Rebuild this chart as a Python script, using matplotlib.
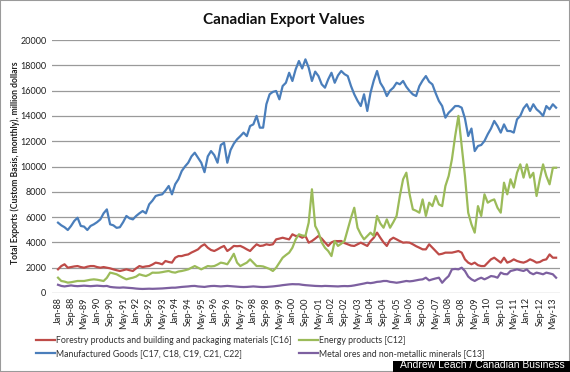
import numpy as np
import matplotlib
matplotlib.use("Agg")
import matplotlib.pyplot as plt
from matplotlib.patches import Rectangle

# ---- data (values every 2 months starting Jan-88, million dollars) ----
forestry = [1870, 2130, 2270, 2000, 2050, 2100, 2130, 2050, 2000, 2080, 2130, 2130, 2050, 2000, 2050, 2000,
            1950, 1870, 1800, 1740, 1800, 1870, 1800, 1740, 1950, 2130, 2050, 2100, 2130, 2250, 2400, 2350,
            2270, 2530, 2450, 2400, 2790, 2920, 2920, 3000, 3050, 3200, 3320, 3450, 3700, 3850, 3580, 3400,
            3320, 3450, 3600, 3720, 3320, 3500, 3720, 3700, 3720, 3600, 3450, 3320, 3600, 3850, 3720, 3750,
            3850, 3800, 3850, 4240, 4300, 4370, 4300, 4240, 4640, 4510, 4510, 4370, 4510, 3980, 4110, 4300,
            4510, 4300, 4000, 3720, 4000, 4110, 4100, 4110, 3950, 3850, 3750, 3720, 3850, 3980, 3850, 3720,
            4100, 4370, 4770, 4370, 4000, 3720, 4200, 4370, 4240, 4100, 3980, 4000, 3980, 3850, 3700, 3580,
            3450, 3450, 3850, 3580, 3300, 3050, 3100, 3190, 3190, 3190, 3250, 3320, 3190, 2660, 2400, 2270,
            2400, 2200, 2130, 2130, 2400, 2660, 2790, 2600, 2400, 2790, 2400, 2500, 2660, 2530, 2450, 2400,
            2500, 2660, 2550, 2400, 2450, 2600, 2660, 3050, 2790, 2790]

energy = [1210, 950, 900, 820, 850, 900, 950, 950, 950, 1000, 1050, 1080, 1050, 1000, 950, 1200,
          1610, 1550, 1480, 1340, 1200, 1080, 1150, 1210, 1300, 1480, 1400, 1340, 1450, 1610, 1600, 1610,
          1650, 1700, 1740, 1650, 1610, 1700, 1740, 1800, 1870, 2000, 2130, 2000, 1870, 2000, 2130, 2100,
          2130, 2250, 2400, 2350, 2270, 2660, 3100, 2400, 2130, 2270, 2400, 2660, 2400, 2130, 2130, 2100,
          2000, 1900, 1740, 2000, 2400, 2790, 3000, 3190, 3580, 4240, 4640, 4550, 4510, 5560, 8200, 5300,
          4800, 4000, 3580, 3320, 2920, 4110, 3720, 3900, 4110, 5030, 5950, 6740, 5160, 4640, 4240, 4500,
          4770, 4510, 6090, 5500, 5160, 5820, 5160, 5600, 6090, 7670, 8990, 9510, 7800, 6610, 6500, 6350,
          7400, 6090, 7140, 6870, 7670, 7010, 6870, 8460, 9250, 10570, 12410, 14000, 11620, 9250, 6350, 5430,
          4770, 6870, 6090, 7800, 7140, 7300, 7400, 6740, 6350, 8720, 7800, 8990, 8330, 9510, 10170, 9120,
          10170, 9120, 9500, 7670, 8990, 10170, 9250, 8590, 9900, 9900]

manufactured = [5560, 5350, 5200, 4980, 5300, 5700, 5950, 5300, 5250, 4980, 5300, 5430, 5600, 5820, 6300, 6610,
                5430, 5350, 5150, 5200, 5600, 6090, 5900, 5820, 6090, 6300, 6480, 6300, 7010, 7300, 7670, 7750,
                7800, 8100, 8460, 7800, 8600, 9000, 9640, 10000, 10300, 10800, 11090, 10700, 10300, 9550, 10800, 11220,
                10900, 10300, 11700, 11880, 10300, 11300, 11800, 12150, 12400, 12680, 12400, 13200, 13330, 14000, 13070, 13070,
                14920, 15710, 15900, 15970, 15310, 16360, 16620, 17410, 16760, 17680, 18340, 17750, 18470, 17810, 16760, 17500,
                17150, 16500, 16230, 16890, 17410, 16620, 17200, 17550, 17300, 17150, 16360, 15710, 15200, 14780, 15710, 14390,
                15840, 16800, 17550, 16620, 16200, 15570, 16000, 16230, 16620, 16500, 16760, 16300, 15970, 15700, 15570, 16360,
                16800, 17150, 16700, 16490, 15800, 15180, 14780, 13860, 14250, 14500, 14780, 14780, 14650, 13800, 12410, 13000,
                11220, 11620, 11700, 12020, 12550, 13000, 13600, 13200, 12680, 13330, 12810, 12800, 12680, 13730, 14000, 14600,
                14920, 14390, 14920, 14520, 14300, 14000, 14780, 14520, 14920, 14650]

metal_ores = [650, 560, 520, 560, 600, 560, 540, 560, 580, 560, 540, 560, 580, 560, 540, 560,
              480, 450, 430, 420, 440, 420, 400, 380, 350, 330, 320, 330, 340, 330, 340, 350,
              360, 380, 400, 420, 420, 450, 480, 500, 520, 550, 560, 520, 500, 480, 520, 550,
              560, 540, 520, 540, 560, 540, 520, 500, 480, 470, 480, 500, 520, 500, 480, 470,
              480, 500, 520, 550, 580, 620, 650, 680, 700, 690, 690, 650, 620, 600, 580, 560,
              550, 540, 560, 550, 540, 530, 520, 540, 550, 540, 560, 600, 650, 700, 750, 810,
              780, 820, 880, 900, 950, 950, 880, 850, 810, 850, 900, 950, 920, 950, 1000, 1050,
              1080, 1210, 1000, 1080, 1150, 1210, 810, 1100, 1340, 1870, 1900, 1870, 2000, 1740, 1300, 1080,
              950, 1100, 1210, 1080, 1200, 1340, 1300, 1210, 1610, 1500, 1480, 1740, 1800, 1870, 1800, 1740,
              1870, 1600, 1480, 1610, 1550, 1480, 1610, 1550, 1480, 1210]

series_names = ["Forestry products and building and packaging materials [C16]",
                "Energy products [C12]",
                "Manufactured Goods [C17, C18, C19, C21, C22]",
                "Metal ores and non-metallic minerals [C13]"]
months = ["Jan", "Feb", "Mar", "Apr", "May", "Jun", "Jul", "Aug", "Sep", "Oct", "Nov", "Dec"]
tick_labels = [f"{months[m % 12]}-{(88 + m // 12) % 100:02d}" for m in range(0, 305, 8)]
tick_months = list(range(0, 305, 8))

colors = ["#BE4B48", "#9BBB59", "#4A7EBB", "#7D60A0"]

plt.rcParams['font.family'] = ['Lato', 'DejaVu Sans']

fig = plt.figure(figsize=(5.70, 3.72), dpi=100)
fig.patch.set_facecolor("white")
ax = fig.add_axes([52/570, 1 - 293/372, (560-52)/570, (293-40)/372])

data = [forestry, energy, manufactured, metal_ores]
handles = []
for vals, name, c in zip(data, series_names, colors):
    x = np.arange(len(vals)) * 2
    h, = ax.plot(x, vals, color=c, lw=1.6, label=name, solid_joinstyle="round")
    handles.append(h)

ax.set_xlim(-3.7, 308.4)
ax.set_ylim(0, 20000)
ax.set_yticks(range(0, 20001, 2000))
ax.tick_params(axis='y', labelsize=6.5, length=0, pad=4, colors="#202020")
ax.set_xticks(tick_months)
ax.set_xticklabels(tick_labels, rotation=90, fontsize=6.5, color="#202020")
ax.tick_params(axis='x', length=0, pad=3)
ax.grid(axis='y', color="#9a9a9a", lw=0.9)
ax.set_axisbelow(True)
for s in ax.spines.values():
    s.set_visible(False)

fig.text(15/570, 1 - 163/372, "Total Exports (Custom Basis, monthly), million dollars",
         rotation=90, ha='center', va='center', fontsize=6.2, fontweight='bold', color="#202020")
fig.text(284/570, 1 - 20/372, "Canadian Export Values", ha='center', va='center',
         fontsize=11, fontweight='bold', color="#111111")

# row-major order: matplotlib fills columns first
order = [0, 2, 1, 3]
leg = fig.legend([handles[i] for i in order], [series_names[i] for i in order],
                 ncol=2, loc='upper left', bbox_to_anchor=(36/570, 1 - 336/372),
                 frameon=False, fontsize=6.3, handlelength=2.2, handletextpad=0.1,
                 columnspacing=0.8, labelspacing=0.5, borderaxespad=0, borderpad=0)
for t in leg.get_texts():
    t.set_color("#303030")

fig.patches.append(Rectangle((393/570, 0), (570-393)/570, (372-361)/372,
                             transform=fig.transFigure, facecolor="black", edgecolor="none", zorder=5))
fig.text(565/570, 2/372, "Andrew Leach / Canadian Business", ha='right', va='bottom',
         fontsize=7.5, color="white", family="Liberation Sans", zorder=6)
fig.patches.append(Rectangle((0, 0), 1, 1, transform=fig.transFigure, facecolor="none",
                             edgecolor="#9a9a9a", lw=1.5, zorder=4))

fig.savefig("out.png", dpi=100)
